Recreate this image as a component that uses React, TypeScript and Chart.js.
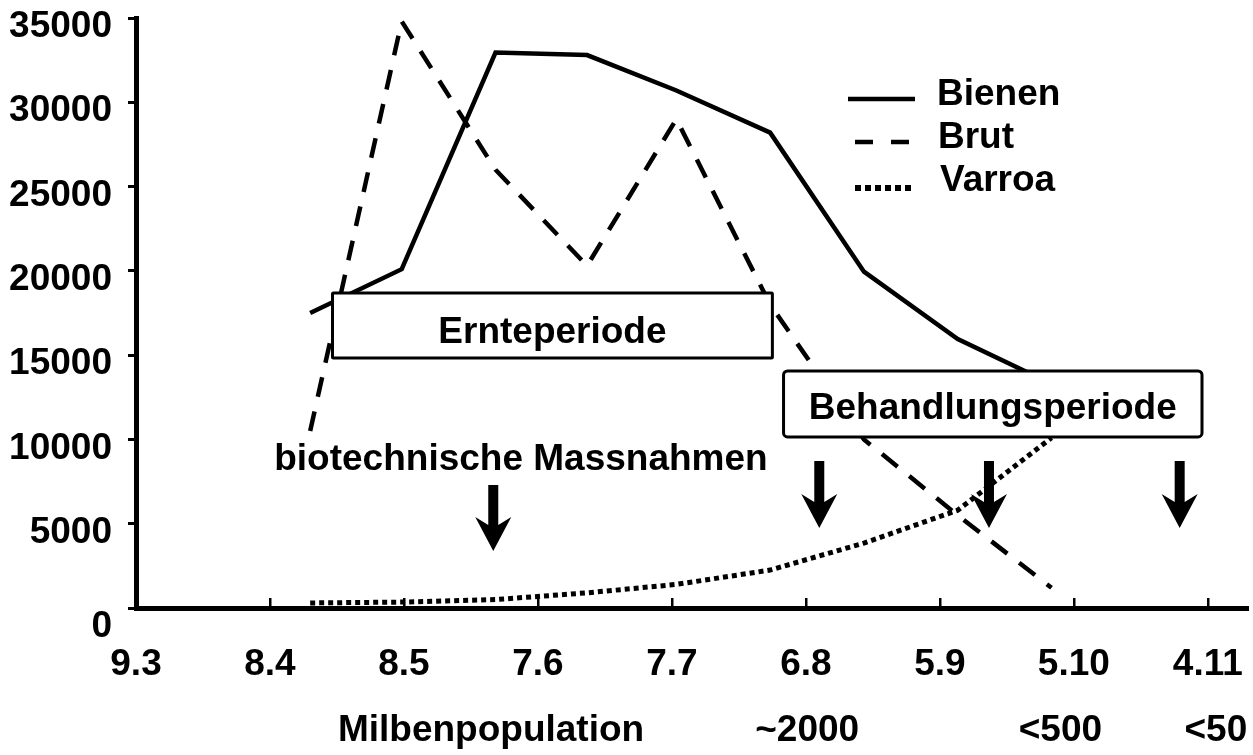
import React, { useEffect, useRef } from "react";
import { Chart, registerables } from "chart.js";

Chart.register(...registerables);

// ---- data ----
const tickDays = [0, 30, 60, 90, 120, 150, 180, 210, 240];
const tickLabels = ["9.3", "8.4", "8.5", "7.6", "7.7", "6.8", "5.9", "5.10", "4.11"];
const yTickValues = [0, 5000, 10000, 15000, 20000, 25000, 30000, 35000];

const sampleDays = [39, 59.5, 80.5, 101, 121, 142, 163, 184, 205];
const bienen = [17500, 20100, 32950, 32800, 30700, 28200, 19950, 15950, 13300];
const brut = [10500, 34800, 26000, 20300, 29000, 18000, 10000, 5500, 1200];
const varroa = [300, 350, 500, 900, 1400, 2250, 3850, 5800, 10100];

const seriesNames = ["Bienen", "Brut", "Varroa"];

const miteLabels = ["Milbenpopulation", "~2000", "<500", "<50"];
const miteDays = [79.5, 150.3, 207, 241.8];

const arrowDays = [80, 153, 191, 233.7];
const arrowTops = [7300, 8720, 8720, 8720];
const arrowTips = [3380, 4750, 4750, 4750];

const harvestLabel = "Ernteperiode";
const harvestBox = { x0: 44, x1: 142.5, y0: 18690, y1: 14830 };
const treatLabel = "Behandlungsperiode";
const treatBox = { x0: 145, x1: 238.7, y0: 14060, y1: 10145 };
const bioLabel = "biotechnische Massnahmen";
const bioPos = { x: 86.2, y: 8190 };

const FONT = '"Liberation Sans", Arial, Helvetica, sans-serif';
const BOLD = `bold 37px ${FONT}`;

const overlayPlugin = {
  id: "overlay",
  afterDatasetsDraw(chart: any) {
    const { ctx, chartArea } = chart;
    const x = chart.scales.x;
    const y = chart.scales.y;
    ctx.save();

    // x tick marks pointing up
    ctx.strokeStyle = "#000";
    ctx.lineWidth = 2.5;
    tickDays.forEach((d) => {
      const px = Math.round(x.getPixelForValue(d)) + 0.25;
      ctx.beginPath();
      ctx.moveTo(px, chartArea.bottom);
      ctx.lineTo(px, chartArea.bottom - 10);
      ctx.stroke();
    });

    const drawBox = (b: any, r: number) => {
      const x0 = x.getPixelForValue(b.x0);
      const x1 = x.getPixelForValue(b.x1);
      const y0 = y.getPixelForValue(b.y0);
      const y1 = y.getPixelForValue(b.y1);
      ctx.beginPath();
      if (ctx.roundRect) ctx.roundRect(x0, y0, x1 - x0, y1 - y0, r);
      else ctx.rect(x0, y0, x1 - x0, y1 - y0);
      ctx.fillStyle = "#fff";
      ctx.fill();
      ctx.lineWidth = 3;
      ctx.strokeStyle = "#000";
      ctx.stroke();
      return { x0, x1, y0, y1 };
    };

    ctx.font = BOLD;
    ctx.fillStyle = "#000";
    ctx.textBaseline = "alphabetic";
    ctx.textAlign = "center";

    const hb = drawBox(harvestBox, 1);
    ctx.fillStyle = "#000";
    ctx.fillText(harvestLabel, (hb.x0 + hb.x1) / 2, hb.y0 + 50);

    const tb = drawBox(treatBox, 4);
    ctx.fillStyle = "#000";
    ctx.fillText(treatLabel, (tb.x0 + tb.x1) / 2, tb.y0 + 48);

    ctx.fillText(bioLabel, x.getPixelForValue(bioPos.x), y.getPixelForValue(bioPos.y));

    // arrows
    arrowDays.forEach((d, i) => {
      const px = x.getPixelForValue(d);
      const top = y.getPixelForValue(arrowTops[i]);
      const tip = y.getPixelForValue(arrowTips[i]);
      const hw = 18, headH = 34, sw = 5, notch = 8;
      const base = tip - headH;
      ctx.beginPath();
      ctx.moveTo(px - sw, top);
      ctx.lineTo(px + sw, top);
      ctx.lineTo(px + sw, base + notch);
      ctx.lineTo(px + hw, base);
      ctx.lineTo(px, tip);
      ctx.lineTo(px - hw, base);
      ctx.lineTo(px - sw, base + notch);
      ctx.closePath();
      ctx.fill();
    });

    // the "0" label of the value axis sits lower than the others
    ctx.textAlign = "right";
    ctx.textBaseline = "middle";
    ctx.fillText(String(yTickValues[0]), chartArea.left - 24, y.getPixelForValue(yTickValues[0]) + 19);

    // second row under x axis
    ctx.textAlign = "center";
    ctx.textBaseline = "alphabetic";
    miteLabels.forEach((t, i) => {
      ctx.fillText(t, x.getPixelForValue(miteDays[i]), chartArea.bottom + 133);
    });

    // legend
    const lx0 = 848, lx1 = 915;
    const rows = [
      { y: 99, dash: [] as number[], w: 4.5, ty: 105, tx: 937 },
      { y: 142, dash: [18, 18], w: 4.5, ty: 148, tx: 938 },
      { y: 188, dash: [6, 4], w: 6, ty: 191, tx: 940 },
    ];
    rows.forEach((r, i) => {
      ctx.save();
      ctx.beginPath();
      ctx.setLineDash(r.dash);
      ctx.lineWidth = r.w;
      ctx.strokeStyle = "#000";
      ctx.moveTo(i === 0 ? lx0 : 855, r.y);
      ctx.lineTo(lx1, r.y);
      ctx.stroke();
      ctx.restore();
      ctx.textAlign = "left";
      ctx.fillText(seriesNames[i], r.tx, r.ty);
    });

    ctx.restore();
  },
};

export default function App() {
  const canvasRef = useRef<HTMLCanvasElement | null>(null);

  useEffect(() => {
    document.body.style.margin = "0";
    const canvas = canvasRef.current;
    if (!canvas) return;
    const toPts = (vals: number[]) => sampleDays.map((d, i) => ({ x: d, y: vals[i] }));
    const chart = new Chart(canvas, {
      type: "line",
      data: {
        datasets: [
          {
            label: seriesNames[0],
            data: toPts(bienen),
            borderColor: "#000",
            borderWidth: 4.5,
            pointRadius: 0,
            tension: 0,
          },
          {
            label: seriesNames[1],
            data: toPts(brut),
            borderColor: "#000",
            borderWidth: 4.5,
            borderDash: [20, 15],
            pointRadius: 0,
            tension: 0,
          },
          {
            label: seriesNames[2],
            data: toPts(varroa),
            borderColor: "#000",
            borderWidth: 5,
            borderDash: [5, 4],
            pointRadius: 0,
            tension: 0,
          },
        ],
      },
      options: {
        animation: false,
        responsive: true,
        maintainAspectRatio: false,
        layout: { padding: { top: 18, right: 5, left: 0, bottom: 0 } },
        plugins: {
          legend: { display: false },
          tooltip: { enabled: false },
        },
        scales: {
          x: {
            type: "linear",
            min: 0,
            max: 249,
            afterBuildTicks: (scale: any) => {
              scale.ticks = tickDays.map((v) => ({ value: v }));
            },
            afterFit: (scale: any) => {
              scale.height = 147;
              scale.paddingLeft = 0;
              scale.paddingRight = 0;
            },
            grid: { display: false, drawTicks: false },
            border: { display: true, color: "#000", width: 5 },
            ticks: {
              autoSkip: false,
              maxRotation: 0,
              padding: 35,
              color: "#000",
              font: { family: FONT, size: 37, weight: "bold", lineHeight: 1.2 },
              callback: (v: any) => {
                const i = tickDays.indexOf(Number(v));
                return i >= 0 ? tickLabels[i] : "";
              },
            },
          },
          y: {
            type: "linear",
            min: 0,
            max: 35000,
            afterBuildTicks: (scale: any) => {
              scale.ticks = yTickValues.map((v) => ({ value: v }));
            },
            afterFit: (scale: any) => {
              scale.width = 136;
              scale.paddingTop = 0;
              scale.paddingBottom = 0;
            },
            grid: {
              display: true,
              drawOnChartArea: false,
              drawTicks: true,
              tickLength: 8,
              color: "#000",
              lineWidth: 3,
            },
            border: { display: true, color: "#000", width: 5 },
            ticks: {
              padding: 16,
              labelOffset: 9,
              color: "#000",
              font: { family: FONT, size: 37, weight: "bold", lineHeight: 1.2 },
              callback: (v: any) => (Number(v) === yTickValues[0] ? "" : String(v)),
            },
          },
        },
      },
      plugins: [overlayPlugin],
    } as any);
    return () => chart.destroy();
  }, []);

  return (
    <div style={{ position: "relative", width: 1253, height: 755, background: "#fff" }}>
      <canvas ref={canvasRef} />
    </div>
  );
}
